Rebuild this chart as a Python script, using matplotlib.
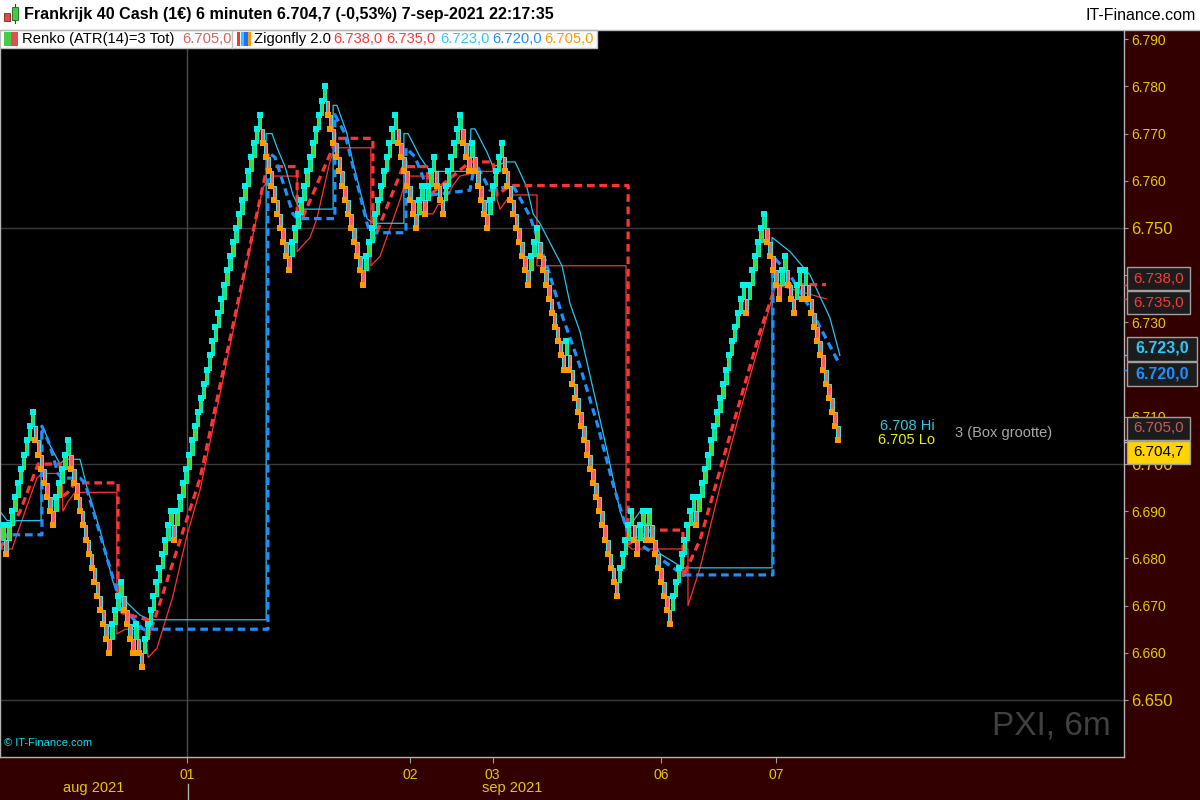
import matplotlib
matplotlib.use("Agg")
import matplotlib.pyplot as plt
from matplotlib.patches import Rectangle
from matplotlib.lines import Line2D
import numpy as np

plt.rcParams["font.family"] = ["Liberation Sans", "DejaVu Sans"]

# ---------------- data ----------------
BOX = 3
# closes at each Renko swing turn (index points)
swing_closes = [6687, 6681, 6711, 6687, 6705, 6660, 6675, 6660, 6666, 6657,
                6690, 6684, 6774, 6741, 6780, 6738, 6774, 6750, 6759, 6753,
                6765, 6753, 6774, 6762, 6768, 6750, 6768, 6738, 6750, 6720,
                6726, 6672, 6690, 6681, 6690, 6684, 6690, 6666, 6693, 6687,
                6738, 6732, 6753, 6735, 6744, 6732, 6741, 6735, 6741, 6705]

# Zigonfly lines: (brick index, price) vertices
zig_red_dash_x = [-1, 5.8, 11.9, 19.3, 20, 22, 24.4, 39, 39, 40.3, 48.8, 49.8, 66.8,
                  89.5, 99.7, 99.7, 113.2, 125.4, 125.4, 135.6, 143.7, 144.7, 158.3,
                  166.1, 167.5, 171.9, 211.9, 211.9, 219.3, 230.5, 230.5, 236.3,
                  246.4, 256.6, 262, 279]
zig_red_dash_y = [6682, 6690, 6700, 6700, 6693, 6694, 6696, 6696, 6672, 6668.5, 6667,
                  6664, 6697, 6763, 6763, 6749.5, 6769, 6769, 6747, 6763, 6763, 6757,
                  6764, 6764, 6757, 6759, 6759, 6683, 6686, 6686, 6676, 6684, 6706,
                  6728, 6738, 6738]

zig_blue_dash_x = [-1, 13.2, 13.2, 15.9, 18.6, 20, 26.1, 27.8, 38.6, 41.4, 47.5, 89.8,
                   89.8, 92.2, 98.3, 99.7, 112.5, 112.5, 115.9, 123.4, 124.4, 136.6,
                   136.6, 139.7, 144.7, 158.3, 160, 165.1, 172.9, 178.6, 184.4, 189.8,
                   195.6, 201.4, 206.8, 211.5, 216, 222.7, 230.5, 261, 261, 266.8,
                   273.6, 283.7]
zig_blue_dash_y = [6685, 6685, 6708, 6704, 6698, 6697, 6697, 6696, 6673, 6669, 6665,
                   6665, 6766, 6765, 6753, 6752, 6752, 6774, 6770, 6751, 6749, 6749,
                   6767, 6765, 6757, 6758, 6764, 6758, 6759, 6752.5, 6742, 6731,
                   6720.7, 6708.6, 6695.7, 6686, 6683, 6680, 6676.5, 6676.5, 6744,
                   6740, 6733, 6721]

zig_cyan_x = [-1, 1.4, 12.9, 12.9, 14.2, 15.9, 19.3, 21, 26.1, 28.5, 32.9, 37.3, 39.7,
              46.4, 49.8, 89.2, 89.2, 91.2, 92.9, 95.6, 98.3, 100.7, 111.9, 111.9,
              113.2, 116.6, 118.6, 121, 123.4, 125.4, 135.9, 135.9, 137.3, 141.4,
              144.7, 158.3, 158.6, 160, 164.1, 166.1, 170.8, 173.6, 177.6, 179.7,
              182, 186.4, 189.5, 192.2, 195.6, 200, 204.7, 209.2, 211.5, 216, 222.7,
              230.5, 260.7, 260.7, 266.8, 273.6, 280.3, 283.7]
zig_cyan_y = [6690, 6688, 6688, 6707, 6707, 6704, 6700, 6701, 6701, 6695, 6686, 6675,
              6672, 6668, 6667, 6667, 6770, 6770, 6767, 6763, 6757, 6754, 6754, 6776,
              6776, 6770, 6764, 6758, 6752, 6751, 6751, 6770, 6770, 6765, 6762, 6762,
              6771, 6771, 6766, 6763, 6764, 6764, 6758.6, 6753, 6751, 6745.7, 6742,
              6734, 6728, 6716, 6703, 6690, 6686, 6690, 6681, 6678, 6678, 6748, 6745,
              6740, 6731, 6723]

zig_red_x = [-1, 3.1, 4.7, 9.2, 11.5, 13.2, 20, 20.3, 22, 24.4, 38.6, 38.6, 41.4,
             48.1, 49.2, 52.2, 57.6, 62.4, 66.8, 88.1, 91.2, 99.7, 99.7, 104.1, 106.4,
             110.8, 112.5, 124.7, 124.7, 127.8, 131.2, 134.6, 136.9, 143.7, 143.7,
             145.8, 147.5, 149.2, 152.5, 154.9, 161.7, 166.8, 167.5, 168.5, 170.8,
             172.5, 181, 181, 211.2, 211.2, 213.2, 232.2, 232.2, 236.3, 243, 249.8,
             256.6, 262, 279]
zig_red_y = [6682, 6682, 6685, 6693, 6697, 6698, 6698, 6690, 6692, 6694, 6694, 6664,
             6665, 6665, 6659, 6661, 6672, 6685, 6694.5, 6758.6, 6761, 6761, 6745,
             6748, 6752, 6764, 6767, 6767, 6742, 6744, 6750, 6756, 6761, 6761, 6753,
             6753, 6755, 6755, 6759, 6761, 6762, 6762, 6756, 6754, 6756, 6757, 6757,
             6742, 6742, 6683, 6682, 6682, 6670, 6678, 6695, 6711, 6726, 6738, 6735]

# first brick of each trading day
day_start = [62.5, 138, 166, 223, 262]
day_labels = ["01", "02", "03", "06", "07"]
month_labels = ["aug 2021", "sep 2021"]

y_ticks = list(range(6650, 6791, 10))
major_levels = [6650, 6700, 6750]
hidden_levels = [6720, 6740]  # covered by the value tags

value_tags = [6738.0, 6735.0, 6723.0, 6720.0, 6705.0, 6704.7]
box_hi, box_lo = 6708, 6705

# ---------------- build Renko bricks ----------------
closes, dirs = [swing_closes[0]], [1]
for target in swing_closes[1:]:
    d = 1 if target > closes[-1] else -1
    c = closes[-1] + (2 * BOX * d if d != dirs[-1] else BOX * d)
    while True:
        closes.append(c)
        dirs.append(d)
        if c == target:
            break
        c += BOX * d
closes = np.array(closes, dtype=float)
dirs = np.array(dirs)
opens = closes - BOX * dirs
idx = np.arange(len(closes))
lo = np.minimum(opens, closes)

# ---------------- figure ----------------
W, H = 1200, 800
fig = plt.figure(figsize=(12, 8), dpi=100, facecolor="#330000")


def fx(px):
    return px / W


def fy(py):
    return 1 - py / H


PLOT_TOP, PLOT_BOT, PLOT_RIGHT = 30, 757, 1124
ax = fig.add_axes([0, fy(PLOT_BOT), fx(PLOT_RIGHT), fy(PLOT_TOP) - fy(PLOT_BOT)])
ax.set_facecolor("black")

px_per_brick = 2.95
x_min = -3 / px_per_brick
x_max = x_min + PLOT_RIGHT / px_per_brick
ax.set_xlim(x_min, x_max)
ppp = 4.72  # pixels per index point
ax.set_ylim(6750 - (PLOT_BOT - 228) / ppp, 6750 + (228 - PLOT_TOP) / ppp)

# grid
for lv in major_levels:
    ax.axhline(lv, color="#3a3a3a", lw=1, zorder=1)
ax.axvline(day_start[0], color="#4a4a4a", lw=1, zorder=1)

# indicator lines
dash = (0, (2.4, 1.5))
ax.plot(zig_red_x, zig_red_y, color="#ff3030", lw=0.9, zorder=2)
ax.plot(zig_cyan_x, zig_cyan_y, color="#1ec8f0", lw=0.9, zorder=2)
ax.plot(zig_red_dash_x, zig_red_dash_y, color="#ff3535", lw=2.3, ls=dash, zorder=2)
ax.plot(zig_blue_dash_x, zig_blue_dash_y, color="#1e8fff", lw=2.3, ls=dash, zorder=2)

# bricks
up = dirs > 0
ax.bar(idx[up], BOX, bottom=lo[up], width=1.2, color="#3ddc3d",
       edgecolor="#00f0e0", linewidth=0.7, zorder=3)
ax.bar(idx[~up], BOX, bottom=lo[~up], width=1.2, color="#ff5c5c",
       edgecolor="#40e8e0", linewidth=0.7, zorder=3)
ax.scatter(idx[up], closes[up], marker="s", s=14, color="#00f5e6", lw=0, zorder=4)
ax.scatter(idx[~up], closes[~up], marker="s", s=14, color="#ff9a00", lw=0, zorder=4)

# axes styling
ax.spines["top"].set_visible(False)
for side in ("left", "bottom", "right"):
    ax.spines[side].set_color("#b4b4b4")
    ax.spines[side].set_linewidth(1)

ax.yaxis.tick_right()
ax.set_yticks(y_ticks)
ax.set_yticklabels(["" if v in hidden_levels else f"{v // 1000}.{v % 1000:03d}"
                    for v in y_ticks])
ax.tick_params(axis="y", colors="#9a9a9a", labelcolor="#e8c800", labelsize=10,
               length=3, pad=2)
for lab, v in zip(ax.get_yticklabels(), y_ticks):
    if v in major_levels:
        lab.set_fontsize(12)

ax.set_xticks(day_start)
ax.set_xticklabels(day_labels)
ax.tick_params(axis="x", colors="#9a9a9a", labelcolor="#e8c800", labelsize=10,
               length=4, pad=4, direction="out")

# month labels centred under their spans
last = idx[-1]
month_pos = [(x_min + day_start[0]) / 2, (day_start[0] + last) / 2]
for m, xp in zip(month_labels, month_pos):
    ax.text(xp, -0.043, m, transform=ax.get_xaxis_transform(), color="#e8c800",
            fontsize=10.5, ha="center", va="center", clip_on=False)
fig.add_artist(Line2D([fx(188), fx(188)], [fy(784), fy(800)], color="#b0b0b0", lw=1))

# in-plot annotations
ax.text(0.004, 0.012, "© IT-Finance.com", transform=ax.transAxes, color="#00e0f0",
        fontsize=8, ha="left", va="bottom")
ax.text(0.988, 0.022, "PXI, 6m", transform=ax.transAxes, color="#404040",
        fontsize=24, ha="right", va="bottom")
ytr = ax.get_yaxis_transform()
ax.text(935 / PLOT_RIGHT, box_hi, f"{box_hi // 1000}.{box_hi % 1000:03d} Hi", transform=ytr,
        color="#30c8e0", fontsize=10.5, ha="right", va="center")
ax.text(935 / PLOT_RIGHT, box_lo, f"{box_lo // 1000}.{box_lo % 1000:03d} Lo", transform=ytr,
        color="#f0f000", fontsize=10.5, ha="right", va="center")
ax.text(955 / PLOT_RIGHT, (box_hi + box_lo) / 2, f"{BOX} (Box grootte)", transform=ytr,
        color="#a8a8a8", fontsize=10.5, ha="left", va="center")

# value tags on the price scale
tag_specs = [
    (279, 1190, "#ff3838", "normal", "#1c1c1c", 11),
    (302.5, 1190, "#ff3838", "normal", "#1c1c1c", 11),
    (348.5, 1197, "#2ec8ff", "bold", "#1c1c1c", 11.5),
    (374, 1197, "#1e8fff", "bold", "#1c1c1c", 11.5),
    (428.5, 1190, "#c85a5a", "normal", "#1c1c1c", 11),
    (452, 1190, "#000000", "normal", "#ffd400", 11),
]
tick_cols = ["#ff3838", "#ff3838", "#2ec8ff", "#1e8fff", "#b0b0b0", "#b0b0b0"]
for val, (cy, right, tc, fw, bg, fs), kc in zip(value_tags, tag_specs, tick_cols):
    hh = 24 if fw == "bold" else 23
    fig.add_artist(Rectangle((fx(1127), fy(cy + hh / 2)), fx(right - 1127), hh / H,
                             facecolor=bg, edgecolor="#a0a0a0", lw=1, zorder=5))
    txt = f"{int(val) // 1000}.{int(val) % 1000:03d},{int(round(val * 10)) % 10}"
    fig.text(fx((1127 + right) / 2), fy(cy), txt, color=tc, fontsize=fs,
             fontweight=fw, ha="center", va="center", zorder=6)
    py = 228 - (val - 6750) * ppp
    fig.add_artist(Line2D([fx(1124), fx(1128)], [fy(py), fy(py)], color=kc, lw=1, zorder=4))

# ---------------- header ----------------
fig.add_artist(Rectangle((0, fy(PLOT_TOP)), 1, PLOT_TOP / H, facecolor="white",
                         edgecolor="none", zorder=2))
fig.add_artist(Line2D([0, 1], [fy(PLOT_TOP), fy(PLOT_TOP)], color="#b8b8b8", lw=1, zorder=3))
# candle icon
fig.add_artist(Rectangle((fx(4), fy(21)), fx(6), 8 / H, facecolor="#e04848",
                         edgecolor="#802020", lw=0.6, zorder=3))
fig.add_artist(Line2D([fx(15), fx(15)], [fy(23), fy(4)], color="#205020", lw=0.8, zorder=3))
fig.add_artist(Rectangle((fx(12), fy(20)), fx(6), 13 / H, facecolor="#44cc44",
                         edgecolor="#206020", lw=0.6, zorder=4))
fig.text(fx(24), fy(15), "Frankrijk 40 Cash (1€) 6 minuten 6.704,7 (-0,53%) 7-sep-2021 22:17:35",
         fontsize=11.6, fontweight="bold", color="black", ha="left", va="center", zorder=5)
fig.text(fx(1196), fy(15), "IT-Finance.com", fontsize=11.5, color="black",
         ha="right", va="center", zorder=5)

# indicator legend strip
fig.add_artist(Rectangle((0, fy(48)), fx(597), 18 / H, facecolor="white",
                         edgecolor="#c0c0c0", lw=1, zorder=2))
fig.add_artist(Rectangle((fx(4), fy(46)), fx(7), 14 / H, facecolor="#44cc44", lw=0, zorder=3))
fig.add_artist(Rectangle((fx(11), fy(46)), fx(7), 14 / H, facecolor="#e05050", lw=0, zorder=3))
fig.add_artist(Line2D([fx(232), fx(232)], [fy(31), fy(48)], color="#c0c0c0", lw=1, zorder=3))
for k, c in enumerate(["#ff3030", "#2ec8ff", "#1e6fff", "#ff9a00"]):
    fig.add_artist(Rectangle((fx(237 + 3.7 * k), fy(46)), fx(3.2), 14 / H,
                             facecolor=c, lw=0, zorder=3))

legend_parts = [
    (22, "Renko (ATR(14)=3 Tot)", "black"),
    (182, "6.705,0", "#e06060"),
    (254, "Zigonfly 2.0", "black"),
    (333, "6.738,0", "#ff3838"),
    (386, "6.735,0", "#ff3838"),
    (440, "6.723,0", "#2ec8ff"),
    (492, "6.720,0", "#1e8fff"),
    (544, "6.705,0", "#ff9a00"),
]
for xp, s, c in legend_parts:
    fig.text(fx(xp), fy(39), s, fontsize=10.6, color=c, ha="left", va="center", zorder=5)

fig.savefig("out.png", dpi=100, facecolor=fig.get_facecolor())
